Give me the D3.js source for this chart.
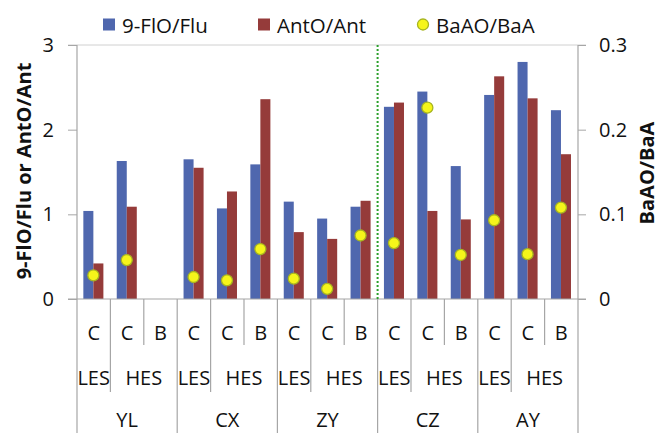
<!DOCTYPE html>
<html>
<head>
<meta charset="utf-8">
<script src="https://cdn.jsdelivr.net/npm/d3@7"></script>
<style>
  html, body { margin: 0; padding: 0; background: #fff; }
  svg { display: block; font-family: "Open Sans", "Noto Sans", sans-serif; }
</style>
</head>
<body>
<svg id="chart" width="659" height="433"></svg>
<script>
// Sample type per bar slot (innermost axis level)
const sampleTypes = ["C","C","B","C","C","B","C","C","B","C","C","B","C","C","B"];
// Emission scenario spans: [label, first slot, slot count]
const scenarios = [
  ["LES",0,1],["HES",1,2],["LES",3,1],["HES",4,2],["LES",6,1],["HES",7,2],
  ["LES",9,1],["HES",10,2],["LES",12,1],["HES",13,2]
];
// City spans: [label, first slot, slot count]
const cities = [["YL",0,3],["CX",3,3],["ZY",6,3],["CZ",9,3],["AY",12,3]];

// Ratios per slot (null = no data)
const floFlu = [1.04,1.63,null,1.65,1.07,1.59,1.15,0.95,1.09,2.27,2.45,1.57,2.41,2.80,2.23];
const antOAnt = [0.42,1.09,null,1.55,1.27,2.36,0.79,0.71,1.16,2.32,1.04,0.94,2.63,2.37,1.71];
const baaoBaa = [0.028,0.046,null,0.026,0.022,0.059,0.024,0.012,0.075,0.066,0.226,0.052,0.093,0.053,0.108];

const leftTicks = [0,1,2,3];
const rightTicks = [0,0.1,0.2,0.3];

const svg = d3.select("#chart");
const W = 659, H = 433;
const plot = {left: 77, right: 578, top: 45, bottom: 299};
const gridColor = "#a6a6a6";
const blue = "#4f67ae", red = "#953b3a";
const ink = "#111";
const font = "'Open Sans', sans-serif";

const slots = d3.range(sampleTypes.length);
const x = d3.scaleBand().domain(slots).range([plot.left, plot.right]).padding(0);
const yL = d3.scaleLinear().domain([0,3]).range([plot.bottom, plot.top]);
const yR = d3.scaleLinear().domain([0,0.3]).range([plot.bottom, plot.top]);

const bw = x.bandwidth();
const barW = bw * 0.3;
const barOff = bw * 0.19;

// Top border of the plot area
svg.append("line")
  .attr("x1", plot.left - 9).attr("x2", plot.right + 8)
  .attr("y1", plot.top).attr("y2", plot.top)
  .attr("stroke", "#d0d0d0").attr("stroke-width", 1);

// Left axis
const gL = svg.append("g").attr("transform", `translate(${plot.left},0)`)
  .call(d3.axisLeft(yL).tickValues(leftTicks).tickSize(9).tickPadding(14).tickFormat(d3.format("d")));
gL.select(".domain").remove();
gL.selectAll(".tick line").attr("stroke", gridColor);
gL.selectAll(".tick text").attr("font-size", 20).attr("fill", ink).attr("font-family", font);

// Right axis
const gR = svg.append("g").attr("transform", `translate(${plot.right},0)`)
  .call(d3.axisRight(yR).tickValues(rightTicks).tickSize(8).tickPadding(13)
    .tickFormat(d => d === 0 ? "0" : d3.format(".1f")(d)));
gR.select(".domain").remove();
gR.selectAll(".tick line").attr("stroke", gridColor);
gR.selectAll(".tick text").attr("font-size", 20).attr("fill", ink).attr("font-family", font);

// Vertical axis lines extending through the category labels
[plot.left, plot.right].forEach(px => {
  svg.append("line").attr("x1", px).attr("x2", px)
    .attr("y1", plot.top).attr("y2", H)
    .attr("stroke", gridColor).attr("stroke-width", 1.2);
});

// Bars
svg.append("g").selectAll("rect.flo")
  .data(slots.filter(i => floFlu[i] != null)).join("rect")
  .attr("x", i => x(i) + barOff).attr("width", barW)
  .attr("y", i => yL(floFlu[i])).attr("height", i => yL(0) - yL(floFlu[i]))
  .attr("fill", blue);
svg.append("g").selectAll("rect.ant")
  .data(slots.filter(i => antOAnt[i] != null)).join("rect")
  .attr("x", i => x(i) + barOff + barW).attr("width", barW)
  .attr("y", i => yL(antOAnt[i])).attr("height", i => yL(0) - yL(antOAnt[i]))
  .attr("fill", red);

// Baseline
svg.append("line")
  .attr("x1", plot.left - 9).attr("x2", plot.right + 8)
  .attr("y1", plot.bottom).attr("y2", plot.bottom)
  .attr("stroke", gridColor).attr("stroke-width", 1.2);

// Separator between sampling campaigns
svg.append("line")
  .attr("x1", x(9)).attr("x2", x(9))
  .attr("y1", plot.top).attr("y2", plot.bottom)
  .attr("stroke", "#2ca02c").attr("stroke-width", 2).attr("stroke-dasharray", "2,2");

// BaAO/BaA markers
svg.append("g").selectAll("circle")
  .data(slots.filter(i => baaoBaa[i] != null)).join("circle")
  .attr("cx", i => x(i) + barOff + barW).attr("cy", i => yR(baaoBaa[i]))
  .attr("r", 5.5).attr("fill", "#f5f51a").attr("stroke", "#a7b520").attr("stroke-width", 1.3);

// Multi-level category axis
const rowY = [332, 377, 419];
const sepBottom = [345, 392, H];
// separators: each boundary extends down as far as the outermost level it bounds
for (let b = 1; b < sampleTypes.length; b++) {
  let level = 0;
  if (scenarios.some(s => s[1] === b)) level = 1;
  if (cities.some(c => c[1] === b)) level = 2;
  svg.append("line").attr("x1", x(b)).attr("x2", x(b))
    .attr("y1", plot.bottom).attr("y2", sepBottom[level])
    .attr("stroke", gridColor).attr("stroke-width", 1.2);
}
const labelG = svg.append("g").attr("font-size", 20).attr("fill", ink)
  .attr("text-anchor", "middle").attr("dominant-baseline", "central");
labelG.selectAll("text.t").data(slots).join("text")
  .attr("x", i => x(i) + bw / 2).attr("y", rowY[0]).text(i => sampleTypes[i]);
labelG.selectAll("text.s").data(scenarios).join("text")
  .attr("x", d => x(d[1]) + d[2] * bw / 2).attr("y", rowY[1]).text(d => d[0]);
labelG.selectAll("text.c").data(cities).join("text")
  .attr("x", d => x(d[1]) + d[2] * bw / 2).attr("y", rowY[2]).text(d => d[0]);

// Axis titles
svg.append("text")
  .attr("transform", "translate(23,171) rotate(-90)")
  .attr("text-anchor", "middle").attr("dominant-baseline", "central")
  .attr("font-size", 20).attr("font-weight", "bold").attr("fill", ink)
  .text("9-FlO/Flu or AntO/Ant");
svg.append("text")
  .attr("transform", "translate(646,173) rotate(-90)")
  .attr("text-anchor", "middle").attr("dominant-baseline", "central")
  .attr("font-size", 20).attr("font-weight", "bold").attr("fill", ink)
  .text("BaAO/BaA");

// Legend
const legend = svg.append("g").attr("font-size", 20.5).attr("fill", ink);
const legendItems = [
  {label: "9-FlO/Flu", kind: "rect", color: blue, x: 103},
  {label: "AntO/Ant", kind: "rect", color: red, x: 258},
  {label: "BaAO/BaA", kind: "circle", color: "#f5f51a", x: 417}
];
legendItems.forEach(it => {
  if (it.kind === "rect") {
    legend.append("rect").attr("x", it.x).attr("y", 18.5).attr("width", 12).attr("height", 12).attr("fill", it.color);
  } else {
    legend.append("circle").attr("cx", it.x + 6).attr("cy", 24.5).attr("r", 5.5)
      .attr("fill", it.color).attr("stroke", "#a7b520").attr("stroke-width", 1.3);
  }
  legend.append("text").attr("x", it.x + 19).attr("y", 25).attr("dominant-baseline", "central").text(it.label);
});
</script>
</body>
</html>
